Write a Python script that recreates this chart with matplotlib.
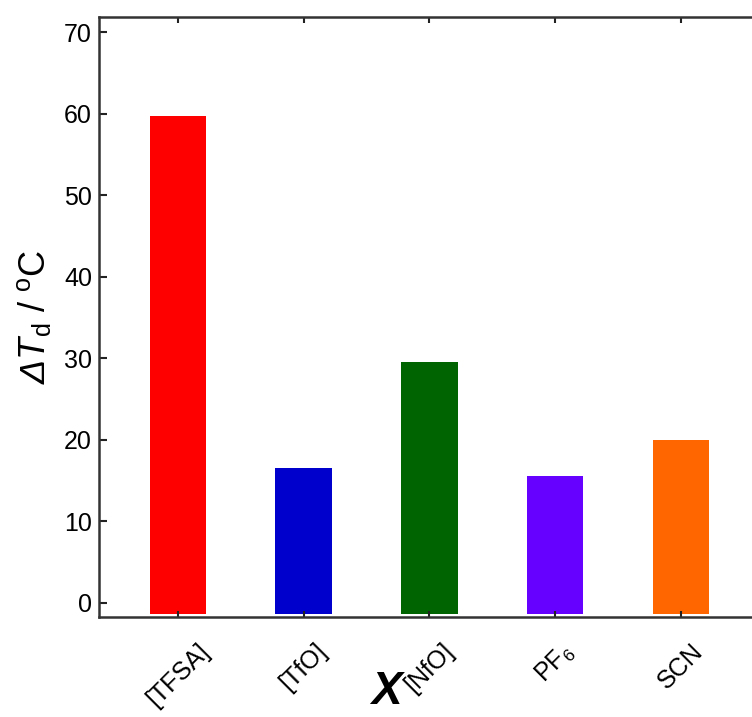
import matplotlib
matplotlib.use("Agg")
import matplotlib.pyplot as plt

categories = ["[TFSA]", "[TfO]", "[NfO]", "PF$_{6}$", "SCN"]
values = [59.7, 16.6, 29.6, 15.6, 20.0]
colors = ["#FF0000", "#0000CC", "#006400", "#6600FF", "#FF6600"]
bar_base = -1.35
yticks = [0, 10, 20, 30, 40, 50, 60, 70]

plt.rcParams['font.family'] = ['Liberation Sans', 'DejaVu Sans']
plt.rcParams['mathtext.fontset'] = 'custom'
plt.rcParams['mathtext.rm'] = 'Liberation Sans'
plt.rcParams['mathtext.it'] = 'Liberation Sans:italic'
plt.rcParams['mathtext.sf'] = 'Liberation Sans:italic'

fig = plt.figure(figsize=(7.52, 7.17), dpi=100)
ax = fig.add_axes([99/752, 1-617/717, (760-99)/752, (617-17)/717])

x = list(range(len(categories)))
ax.bar(x, [v - bar_base for v in values], bottom=bar_base, width=0.45, color=colors)

ax.set_xlim(-0.628, 4.63)
ax.set_ylim(-1.72, 71.84)
ax.set_yticks(yticks)
ax.set_xticks(x)
ax.set_xticklabels(categories, rotation=45, ha='center', va='top', fontsize=18)
ax.tick_params(axis='y', labelsize=18, direction='in', length=6, width=1.5,
               right=True, pad=5, colors='#222222', labelcolor='black')
ax.tick_params(axis='x', direction='in', length=4, width=1.5, top=True, pad=16,
               colors='#222222', labelcolor='black')
for s in ax.spines.values():
    s.set_linewidth(1.8)
    s.set_color('#333333')

ax.set_ylabel("$\\mathsf{ΔT}_{\\mathrm{d}}$ / $\\mathrm{^oC}$", fontsize=26, labelpad=8)
fig.text(386/752, 1-670/717, "X", fontsize=33, fontweight='bold', fontstyle='italic',
         ha='center', va='top')

fig.savefig("out.png", dpi=100)
